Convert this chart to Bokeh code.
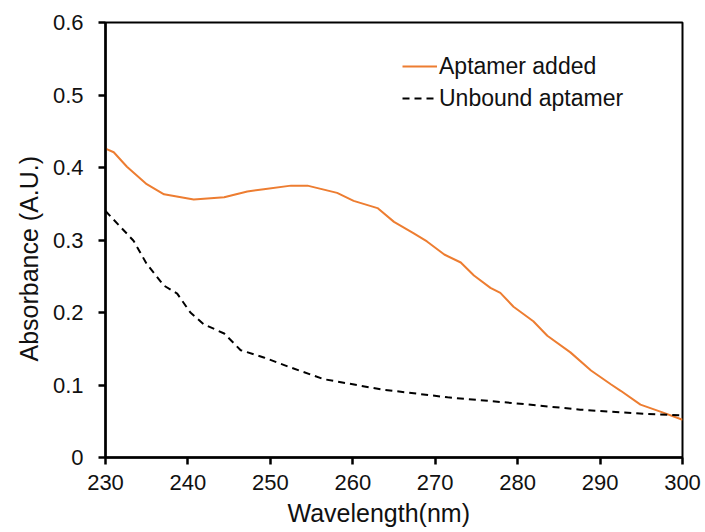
from bokeh.plotting import figure
from bokeh.models import Range1d, Legend, LegendItem, FixedTicker, Title
from bokeh.embed import file_html
from bokeh.resources import INLINE

# Aptamer added (orange, solid)
added_x = [230.0, 231.0, 232.6, 235.0, 237.1, 240.7, 244.4, 247.2, 249.2, 252.5, 254.5,
           258.1, 260.1, 263.0, 265.0, 267.4, 269.0, 271.1, 273.1, 274.7, 276.7, 277.9,
           279.5, 281.9, 283.6, 286.4, 288.9, 291.3, 292.5, 294.9, 297.4, 300.0]
added_y = [0.426, 0.421, 0.401, 0.377, 0.363, 0.356, 0.359, 0.367, 0.370, 0.375, 0.375,
           0.365, 0.354, 0.344, 0.325, 0.309, 0.298, 0.280, 0.269, 0.251, 0.234, 0.227,
           0.208, 0.188, 0.168, 0.145, 0.120, 0.101, 0.092, 0.073, 0.063, 0.052]

# Unbound aptamer (black, dashed)
unbound_x = [230.0, 233.4, 235.0, 237.1, 238.7, 240.3, 241.9, 244.4, 246.4, 249.2, 252.5,
             256.5, 260.0, 263.4, 271.5, 279.5, 287.6, 295.7, 300.0]
unbound_y = [0.340, 0.299, 0.267, 0.237, 0.226, 0.200, 0.184, 0.171, 0.148, 0.138, 0.124,
             0.108, 0.101, 0.094, 0.083, 0.075, 0.066, 0.060, 0.058]

x_ticks = [230, 240, 250, 260, 270, 280, 290, 300]
y_ticks = [0, 0.1, 0.2, 0.3, 0.4, 0.5, 0.6]
x_title = "Wavelength(nm)"
y_title = "Absorbance (A.U.)"
series_names = ["Aptamer added", "Unbound aptamer"]

p = figure(width=705, height=532, output_backend="svg", toolbar_location=None,
           x_range=Range1d(230, 300), y_range=Range1d(0, 0.6),
           min_border_left=105, min_border_right=23, min_border_top=22, min_border_bottom=75)

p.xgrid.visible = False
p.ygrid.visible = False
p.outline_line_color = "black"
p.outline_line_width = 2
p.background_fill_color = "white"
p.border_fill_color = "white"

r1 = p.line(added_x, added_y, line_color="#ED7D31", line_width=2)
r2 = p.line(unbound_x, unbound_y, line_color="black", line_width=2, line_dash="7 5")

for ax in (p.xaxis[0], p.yaxis[0]):
    ax.axis_line_width = 2.5
    ax.axis_line_color = "black"
    ax.major_tick_line_width = 2.5
    ax.major_tick_line_color = "black"
    ax.major_tick_out = 7
    ax.major_tick_in = 0
    ax.minor_tick_line_color = None
    ax.major_label_text_font = "Liberation Sans"
    ax.major_label_text_font_size = "22px"
    ax.major_label_text_color = "#111111"

p.xaxis[0].ticker = FixedTicker(ticks=x_ticks)
p.yaxis[0].ticker = FixedTicker(ticks=y_ticks)
p.yaxis[0].major_label_overrides = {0: "0"}
p.xaxis[0].major_label_standoff = 10
p.yaxis[0].major_label_standoff = 15

# axis titles, shifted as in the reference (centred on the whole chart area)
xt = Title(text=x_title, align="left", offset=182, standoff=9,
           text_font="Liberation Sans", text_font_size="25px",
           text_font_style="normal", text_color="#111111")
yt = Title(text=y_title, align="left", offset=96, standoff=14,
           text_font="Liberation Sans", text_font_size="25px",
           text_font_style="normal", text_color="#111111")
p.add_layout(xt, "below")
p.add_layout(yt, "left")

legend = Legend(items=[LegendItem(label=series_names[0], renderers=[r1]),
                       LegendItem(label=series_names[1], renderers=[r2])],
                location=(297, 343))
legend.border_line_color = None
legend.background_fill_alpha = 0
legend.padding = 0
legend.margin = 0
legend.spacing = 0
legend.glyph_width = 35
legend.glyph_height = 32
legend.label_height = 32
legend.label_standoff = 2
legend.label_text_font = "Liberation Sans"
legend.label_text_font_size = "23px"
legend.label_text_color = "#111111"
p.add_layout(legend, "center")

open("out.html", "w").write(file_html(p, INLINE))
